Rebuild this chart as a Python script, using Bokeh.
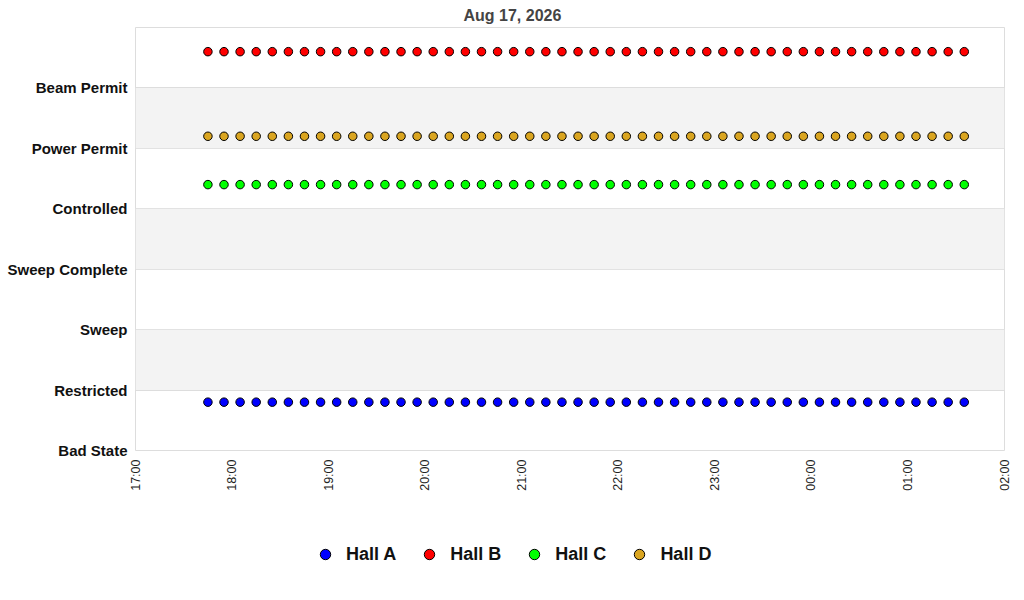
from datetime import datetime, timedelta
from bokeh.plotting import figure
from bokeh.layouts import column
from bokeh.models import (ColumnDataSource, FixedTicker, DatetimeTickFormatter,
                          BoxAnnotation, Legend, LegendItem, Range1d)
from bokeh.embed import file_html
from bokeh.resources import INLINE
import math

# ---- data ----
states = ["Bad State", "Restricted", "Sweep", "Sweep Complete",
          "Controlled", "Power Permit", "Beam Permit"]
state_ticks = [0, 1, 2, 3, 4, 5, 6]

time_labels = [
    "17:45", "17:55", "18:05", "18:15", "18:25", "18:35", "18:45", "18:55",
    "19:05", "19:15", "19:25", "19:35", "19:45", "19:55", "20:05", "20:15",
    "20:25", "20:35", "20:45", "20:55", "21:05", "21:15", "21:25", "21:35",
    "21:45", "21:55", "22:05", "22:15", "22:25", "22:35", "22:45", "22:55",
    "23:05", "23:15", "23:25", "23:35", "23:45", "23:55", "00:05", "00:15",
    "00:25", "00:35", "00:45", "00:55", "01:05", "01:15", "01:25", "01:35",
]
hall_names = ["Hall A", "Hall B", "Hall C", "Hall D"]
hall_levels = [0.8, 6.6, 4.4, 5.2]
hall_colors = ["#0000FF", "#FF0000", "#00FF00", "#DAA520"]

x_tick_labels = ["17:00", "18:00", "19:00", "20:00", "21:00", "22:00",
                 "23:00", "00:00", "01:00", "02:00"]

# build datetimes (rolling over midnight)
def to_dt(labels):
    out = []
    day = datetime(2026, 8, 17)
    prev = None
    for s in labels:
        h, m = map(int, s.split(":"))
        if prev is not None and h < prev:
            day = day + timedelta(days=1)
        prev = h
        out.append(day + timedelta(hours=h, minutes=m))
    return out

times = to_dt(time_labels)
tick_times = to_dt(x_tick_labels)
epoch = datetime(1970, 1, 1)
tick_ms = [(t - epoch).total_seconds() * 1000 for t in tick_times]
times_ms = [(t - epoch).total_seconds() * 1000 for t in times]

FONT = "Liberation Sans"

p = figure(frame_width=869, frame_height=423, x_axis_type="datetime",
           output_backend="svg", toolbar_location=None,
           x_range=Range1d(tick_ms[0], tick_ms[-1]),
           y_range=Range1d(0, 7),
           min_border_left=135, min_border_right=20, min_border_top=0,
           min_border_bottom=84)

p.title.text = "Aug 17, 2026"
p.title.align = "left"
p.title.offset = 328
p.title.text_font = FONT
p.title.text_font_size = "16px"
p.title.text_font_style = "bold"
p.title.text_color = "#444444"
p.title.standoff = 8

p.outline_line_color = "#dddddd"
p.background_fill_color = "white"
p.border_fill_color = "white"

# alternating bands
for b in [1, 3, 5]:
    p.add_layout(BoxAnnotation(bottom=b, top=b + 1, fill_color="#f3f3f3",
                               fill_alpha=1.0, line_color=None, level="underlay"))

p.xgrid.grid_line_color = None
p.ygrid.grid_line_color = "#dddddd"
p.ygrid.ticker = FixedTicker(ticks=state_ticks)

# y axis
p.yaxis.ticker = FixedTicker(ticks=state_ticks)
p.yaxis.major_label_overrides = {t: s for t, s in zip(state_ticks, states)}
p.yaxis.axis_line_color = None
p.yaxis.major_tick_line_color = None
p.yaxis.major_tick_out = 0
p.yaxis.major_tick_in = 0
p.yaxis.minor_tick_line_color = None
p.yaxis.major_label_text_font = FONT
p.yaxis.major_label_text_font_style = "bold"
p.yaxis.major_label_text_font_size = "15px"
p.yaxis.major_label_text_color = "#111111"
p.yaxis.major_label_standoff = 8

# x axis
p.xaxis.ticker = FixedTicker(ticks=tick_ms)
p.xaxis.formatter = DatetimeTickFormatter(hours="%H:%M", days="%H:%M",
                                          minutes="%H:%M", hourmin="%H:%M")
p.xaxis.major_label_orientation = math.pi / 2
p.xaxis.axis_line_color = None
p.xaxis.major_tick_line_color = None
p.xaxis.major_tick_out = 0
p.xaxis.major_tick_in = 0
p.xaxis.minor_tick_line_color = None
p.xaxis.major_label_text_font = FONT
p.xaxis.major_label_text_font_size = "12.5px"
p.xaxis.major_label_text_color = "#222222"
p.xaxis.major_label_standoff = 9

# legend strip (separate figure below the chart)
lg = figure(frame_width=869, height=40, output_backend="svg", toolbar_location=None,
            x_range=Range1d(0, 1), y_range=Range1d(0, 1),
            x_axis_location=None, y_axis_location=None,
            min_border_left=135, min_border_right=20, min_border_top=0,
            min_border_bottom=0)
lg.outline_line_color = None
lg.grid.grid_line_color = None
lg.background_fill_color = "white"
lg.border_fill_color = "white"

items = []
for name, lvl, col in zip(hall_names, hall_levels, hall_colors):
    src = ColumnDataSource(dict(x=times_ms, y=[lvl] * len(times_ms)))
    p.scatter("x", "y", source=src, size=8.5, fill_color=col,
              line_color="black", line_width=1, marker="circle")
    # off-range twin renderer used only to draw the legend swatch
    r = lg.scatter(x=[5], y=[5], size=8.5, fill_color=col,
                   line_color="black", line_width=1, marker="circle")
    items.append(LegendItem(label=name, renderers=[r]))

legend = Legend(items=items, orientation="horizontal", location=(177, 7),
                border_line_color=None, background_fill_alpha=0,
                label_text_font=FONT, label_text_font_style="bold",
                label_text_font_size="18px", label_text_color="#111111",
                glyph_width=26, glyph_height=26,
                spacing=20, label_standoff=8, margin=0, padding=0)
lg.add_layout(legend, "center")

layout = column(p, lg, spacing=0)
open("out.html", "w").write(file_html(layout, INLINE))
